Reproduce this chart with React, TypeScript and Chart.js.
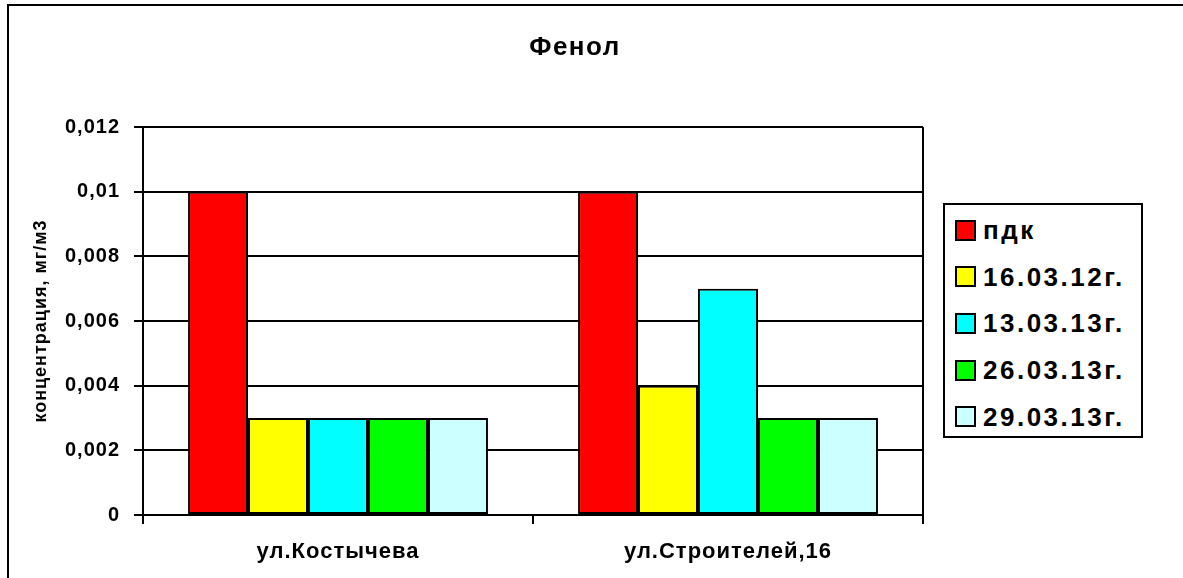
import React, { useEffect, useRef } from "react";
import { Chart, registerables } from "chart.js";

Chart.register(...registerables);

const titleText = "Фенол";
const yAxisTitle = "концентрация, мг/м3";
const categories = ["ул.Костычева", "ул.Строителей,16"];
const seriesNames = ["пдк", "16.03.12г.", "13.03.13г.", "26.03.13г.", "29.03.13г."];
const seriesColors = ["#FF0000", "#FFFF00", "#00FFFF", "#00FF00", "#CCFFFF"];
const pdk = [0.01, 0.01];
const s160312 = [0.003, 0.004];
const s130313 = [0.003, 0.007];
const s260313 = [0.003, 0.003];
const s290313 = [0.003, 0.003];
const seriesValues = [pdk, s160312, s130313, s260313, s290313];
const yTickLabels = ["0", "0,002", "0,004", "0,006", "0,008", "0,01", "0,012"];

const FONT = "'Liberation Sans', Arial, sans-serif";

const textSpacing = {
  id: "textSpacing",
  beforeLayout(chart: any) {
    chart.ctx.letterSpacing = "1px";
  },
  beforeDraw(chart: any) {
    chart.ctx.letterSpacing = "1px";
  },
};

const frameLine = {
  id: "frameLine",
  afterDatasetsDraw(chart: any) {
    const { ctx, chartArea } = chart;
    ctx.save();
    ctx.strokeStyle = "#000";
    ctx.lineWidth = 2;
    ctx.beginPath();
    ctx.moveTo(chartArea.right, chartArea.top);
    ctx.lineTo(chartArea.right, chartArea.bottom);
    ctx.stroke();
    ctx.restore();
  },
};

export default function App() {
  const ref = useRef<HTMLCanvasElement>(null);
  useEffect(() => {
    if (!ref.current) return;
    const chart = new Chart(ref.current, {
      type: "bar",
      data: {
        labels: categories,
        datasets: seriesNames.map((name, i) => ({
          label: name,
          data: seriesValues[i],
          backgroundColor: seriesColors[i],
          borderColor: "#000",
          borderWidth: 2,
          borderSkipped: false,
          categoryPercentage: 0.769,
          barPercentage: 1,
        })),
      },
      options: {
        responsive: false,
        animation: false,
        layout: { padding: { top: 127, right: 17, bottom: 0, left: 0 } },
        plugins: {
          legend: { display: false },
          title: { display: false },
          tooltip: { enabled: false },
        },
        scales: {
          x: {
            afterFit: (s: any) => {
              s.height = 63;
            },
            grid: {
              drawOnChartArea: false,
              drawTicks: true,
              tickLength: 9,
              color: "#000",
              lineWidth: 2,
              offset: true,
            },
            border: { display: true, color: "#000", width: 2 },
            ticks: {
              color: "#000",
              padding: 15,
              font: { family: FONT, size: 22, weight: "bold" },
            },
          },
          y: {
            min: 0,
            max: 0.012,
            afterFit: (s: any) => {
              s.width = 143;
            },
            ticks: {
              stepSize: 0.002,
              color: "#000",
              padding: 14,
              font: { family: FONT, size: 20, weight: "bold" },
              callback: (_v: any, i: number) => yTickLabels[i],
            },
            grid: {
              color: "#000",
              lineWidth: 2,
              tickLength: 9,
              drawTicks: true,
            },
            border: { display: true, color: "#000", width: 2 },
            title: {
              display: true,
              text: yAxisTitle,
              color: "#000",
              padding: { top: 30, bottom: 0 },
              font: { family: FONT, size: 18, weight: "bold" },
            },
          },
        },
      },
      plugins: [textSpacing, frameLine],
    });
    return () => chart.destroy();
  }, []);

  return (
    <div
      style={{
        position: "fixed",
        left: 0,
        top: 0,
        width: 1183,
        height: 578,
        overflow: "hidden",
        background: "#fff",
        fontFamily: FONT,
      }}
    >
      <div
        style={{
          position: "absolute",
          left: 7,
          top: 4,
          width: 1400,
          height: 800,
          borderLeft: "2px solid #000",
          borderTop: "2px solid #000",
        }}
      />
      <canvas
        ref={ref}
        width={940}
        height={578}
        style={{ position: "absolute", left: 0, top: 0, width: 940, height: 578 }}
      />
      <div
        style={{
          position: "absolute",
          left: 0,
          width: 1150,
          top: 31,
          textAlign: "center",
          fontWeight: "bold",
          fontSize: 26,
          letterSpacing: 1.5,
          lineHeight: "30px",
          color: "#000",
        }}
      >
        {titleText}
      </div>
      <div
        style={{
          position: "absolute",
          left: 943,
          top: 203,
          width: 196,
          height: 231,
          border: "2px solid #000",
          boxSizing: "content-box",
        }}
      >
        {seriesNames.map((name, i) => (
          <div
            key={name}
            style={{
              position: "absolute",
              left: 10,
              top: 13 + i * 46.7,
              height: 24,
              display: "flex",
              alignItems: "center",
              whiteSpace: "nowrap",
            }}
          >
            <div
              style={{
                width: 17,
                height: 17,
                background: seriesColors[i],
                border: "2px solid #000",
                marginRight: 7,
              }}
            />
            <span
              style={{
                fontWeight: "bold",
                fontSize: 26,
                letterSpacing: 2.5,
                color: "#000",
                lineHeight: "24px",
              }}
            >
              {name}
            </span>
          </div>
        ))}
      </div>
    </div>
  );
}
